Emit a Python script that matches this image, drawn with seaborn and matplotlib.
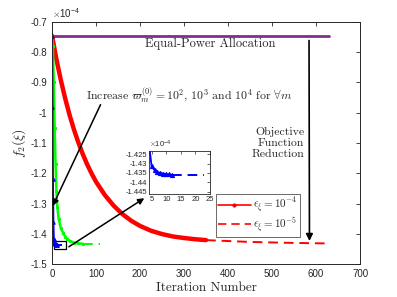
import matplotlib
matplotlib.use("Agg")
import matplotlib.pyplot as plt
import matplotlib.patches as patches
from matplotlib.lines import Line2D
from matplotlib.ticker import FuncFormatter
import seaborn as sns

# values in units of 1e-4
red_x = [0, 10, 20, 30, 40, 50, 60, 70, 80, 90, 100, 120, 140, 160, 180,
         200, 225, 250, 275, 300, 325, 350]
red_y = [-0.745, -0.823, -0.892, -0.953, -1.008, -1.056, -1.099, -1.137,
         -1.171, -1.201, -1.228, -1.272, -1.307, -1.335, -1.357, -1.374,
         -1.390, -1.401, -1.409, -1.414, -1.418, -1.421]
red_dash_x = [350, 450, 540, 630]
red_dash_y = [-1.421, -1.427, -1.430, -1.432]

green_x = [0, 2, 4, 6, 8, 10, 12, 15, 20, 25, 30, 35, 40, 50, 60, 70]
green_y = [-0.745, -0.78, -0.90, -1.05, -1.17, -1.26, -1.31, -1.35, -1.382,
           -1.396, -1.410, -1.418, -1.423, -1.429, -1.432, -1.433]
green_dash_x = [70, 110]
green_dash_y = [-1.433, -1.433]

blue_x = [0, 1, 2, 3, 4, 5, 6, 7, 8, 9, 10, 11, 12]
blue_y = [-0.745, -0.98, -1.22, -1.36, -1.418, -1.4315, -1.4335, -1.4345,
          -1.435, -1.4353, -1.4356, -1.4358, -1.436]
blue_dash_x = [12, 23]
blue_dash_y = [-1.436, -1.436]

equal_x = [0, 630]
equal_y = [-0.745, -0.745]

sns.set_style("white")
plt.rcParams["font.family"] = ["Liberation Sans", "DejaVu Sans"]
plt.rcParams["mathtext.fontset"] = "cm"
plt.rcParams["axes.unicode_minus"] = False

fig = plt.figure(figsize=(3.97, 2.97), dpi=100)
ax = fig.add_axes([0.131, 0.111, 0.776, 0.815])

sns.lineplot(x=equal_x, y=equal_y, ax=ax, color="#7E2F8E", lw=2, errorbar=None)
sns.lineplot(x=red_x, y=red_y, ax=ax, color="red", lw=3.2, errorbar=None)
sns.lineplot(x=red_dash_x, y=red_dash_y, ax=ax, color="red", lw=1.4,
             ls=(0, (5, 3)), errorbar=None)
sns.lineplot(x=green_x, y=green_y, ax=ax, color="#00FF00", lw=1.8, marker="s",
             ms=1.6, mec="#00FF00", errorbar=None)
sns.lineplot(x=green_dash_x, y=green_dash_y, ax=ax, color="#00FF00", lw=1.4,
             ls=(0, (5, 3, 1, 3)), errorbar=None)
sns.lineplot(x=blue_x, y=blue_y, ax=ax, color="blue", lw=1.5, marker="^",
             ms=2.5, mec="blue", errorbar=None)
sns.lineplot(x=blue_dash_x, y=blue_dash_y, ax=ax, color="blue", lw=1.4,
             ls=(0, (5, 3)), errorbar=None)

ax.set_xlim(0, 700)
ax.set_ylim(-1.5, -0.7)
ax.set_xticks(range(0, 701, 100))
ax.set_yticks([-1.5, -1.4, -1.3, -1.2, -1.1, -1.0, -0.9, -0.8, -0.7])
ax.yaxis.set_major_formatter(FuncFormatter(lambda v, p: "%g" % round(v, 3)))
ax.tick_params(direction="in", top=True, right=True, labelsize=7,
               colors="#262626", length=3, width=0.6)
for s in ax.spines.values():
    s.set_color("#262626")
    s.set_linewidth(0.7)
ax.set_xlabel("Iteration Number", family="cmr10", fontsize=9.5, labelpad=2)
ax.set_ylabel(r"$f_2(\xi)$", fontsize=10, labelpad=2)
ax.text(0, 1.008, r"$\times\mathregular{10^{-4}}$", transform=ax.transAxes,
        fontsize=7, color="#262626", va="bottom", ha="left")

# annotations
ax.text(360, -0.773, "Equal-Power Allocation", family="cmr10", fontsize=9,
        ha="center", va="center")
ax.text(573, -1.1, "Objective\nFunction\nReduction", family="cmr10", fontsize=8.5,
        ha="right", va="center", linespacing=1.15)
ax.annotate("", xy=(585, -1.433), xytext=(584, -0.752),
            arrowprops=dict(arrowstyle="-|>", color="k", lw=1.2, mutation_scale=10))
ax.text(77, -0.945,
        r"Increase $\varpi_m^{(0)}=10^2$, $10^3$ and $10^4$ for $\forall m$",
        family="cmr10", fontsize=8.5, ha="left", va="center")
ax.annotate("", xy=(-1, -1.316), xytext=(113, -0.965),
            arrowprops=dict(arrowstyle="-|>", color="k", lw=1.1, mutation_scale=9))
ax.add_patch(patches.Rectangle((4, -1.4505), 27, 0.0275, fill=False,
                               ec="k", lw=0.9))
ax.annotate("", xy=(215, -1.2775), xytext=(33, -1.448),
            arrowprops=dict(arrowstyle="-|>", color="k", lw=1.1, mutation_scale=9))

handles = [Line2D([], [], color="red", lw=1.2, marker=".", ms=4),
           Line2D([], [], color="red", lw=1.2, ls=(0, (5, 3)))]
leg = ax.legend(handles, [r"$\epsilon_\xi=10^{-4}$", r"$\epsilon_\xi=10^{-5}$"],
                loc="lower right", bbox_to_anchor=(0.805, 0.112), fontsize=8,
                frameon=True, fancybox=False, handlelength=3.0,
                borderpad=0.2, labelspacing=0.0, handletextpad=0.2,
                borderaxespad=0)
leg.get_frame().set_edgecolor("#262626")
leg.get_frame().set_linewidth(0.6)

# inset
axi = fig.add_axes([0.376, 0.347, 0.153, 0.145])
sns.lineplot(x=blue_x, y=blue_y, ax=axi, color="blue", lw=1.3, marker="^",
             ms=3, mec="blue", errorbar=None)
sns.lineplot(x=blue_dash_x, y=blue_dash_y, ax=axi, color="blue", lw=1.4,
             ls=(0, (5, 3)), errorbar=None)
axi.set_xlim(4.2, 25)
axi.set_ylim(-1.4462, -1.4232)
axi.set_xticks([5, 10, 15, 20, 25])
axi.set_yticks([-1.445, -1.44, -1.435, -1.43, -1.425])
axi.yaxis.set_major_formatter(FuncFormatter(lambda v, p: "%g" % round(v, 4)))
axi.tick_params(direction="in", top=True, right=True, labelsize=5.5,
                colors="#262626", length=2, width=0.5, pad=1.5)
for s in axi.spines.values():
    s.set_color("#262626")
    s.set_linewidth(0.6)
axi.text(0, 1.01, r"$\times\mathregular{10^{-4}}$", transform=axi.transAxes,
         fontsize=5.5, color="#262626", va="bottom", ha="left")

fig.savefig("out.png", dpi=100)
